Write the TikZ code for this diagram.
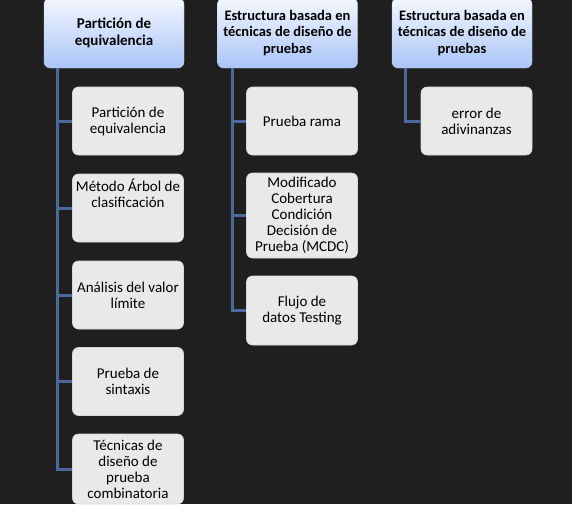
\documentclass[tikz,border=0pt]{standalone}
\usepackage{fontspec}
\setmainfont{Carlito}
\definecolor{bgc}{HTML}{1F1F1F}
\definecolor{linec}{HTML}{4A6A9C}
\definecolor{childc}{HTML}{E9E9E9}
\definecolor{childb}{HTML}{D4D8DE}
\definecolor{htop}{HTML}{F4F7FF}
\definecolor{hbot}{HTML}{A9C5F7}
\tikzset{
  headbox/.style={rounded corners=6pt, top color=htop, bottom color=hbot, draw=hbot!80!black!60,
    line width=0.4pt, minimum width=140pt, minimum height=70pt, align=center, inner sep=2pt,
    font=\fontsize{14.5}{16.5}\selectfont\bfseries, text=black},
  childbox/.style={rounded corners=6pt, fill=childc, draw=childb, line width=0.6pt,
    minimum width=111pt, align=center, inner sep=1pt,
    font=\fontsize{15}{16}\selectfont, text=black},
  conn/.style={draw=linec, line width=3pt}
}
\begin{document}
\begin{tikzpicture}[x=1pt,y=-1pt]
\useasboundingbox[fill=bgc] (0,0) rectangle (572,504);
% headers
\node[headbox, font=\fontsize{15}{17}\selectfont\bfseries] (h1) at (114,33) {Partición de\\equivalencia};
\node[headbox] (h2) at (287.5,33) {Estructura basada en\\técnicas de diseño de\\pruebas};
\node[headbox] (h3) at (462,33) {Estructura basada en\\técnicas de diseño de\\pruebas};
% column 1 children
\node[childbox, minimum height=68pt] (a1) at (128,121) {Partición de\\equivalencia};
\node[childbox, minimum height=68pt] (a2) at (128,208) {Método Árbol de\\clasificación\\[14pt]};
\node[childbox, minimum height=68pt] (a3) at (128,295) {Análisis del valor\\límite};
\node[childbox, minimum height=68pt] (a4) at (128,381.5) {Prueba de\\sintaxis};
\node[childbox, minimum height=70pt] (a5) at (128,469) {Técnicas de\\diseño de\\prueba\\combinatoria};
% column 2 children
\node[childbox, minimum height=68pt] (b1) at (302,121) {Prueba rama};
\node[childbox, minimum height=85pt] (b2) at (302,215.5) {Modificado\\Cobertura\\Condición\\Decisión de\\Prueba (MCDC)};
\node[childbox, minimum height=69pt] (b3) at (302,310.5) {Flujo de\\datos Testing};
% column 3 children
\node[childbox, minimum height=68pt] (c1) at (476.5,121) {error de\\adivinanzas};
% connectors
\foreach \n in {a1,a2,a3,a4,a5}{\draw[conn] ([xshift=14pt]h1.south west) |- (\n.west);}
\foreach \n in {b1,b2,b3}{\draw[conn] ([xshift=15pt]h2.south west) |- (\n.west);}
\draw[conn] ([xshift=14pt]h3.south west) |- (c1.west);
\end{tikzpicture}
\end{document}
